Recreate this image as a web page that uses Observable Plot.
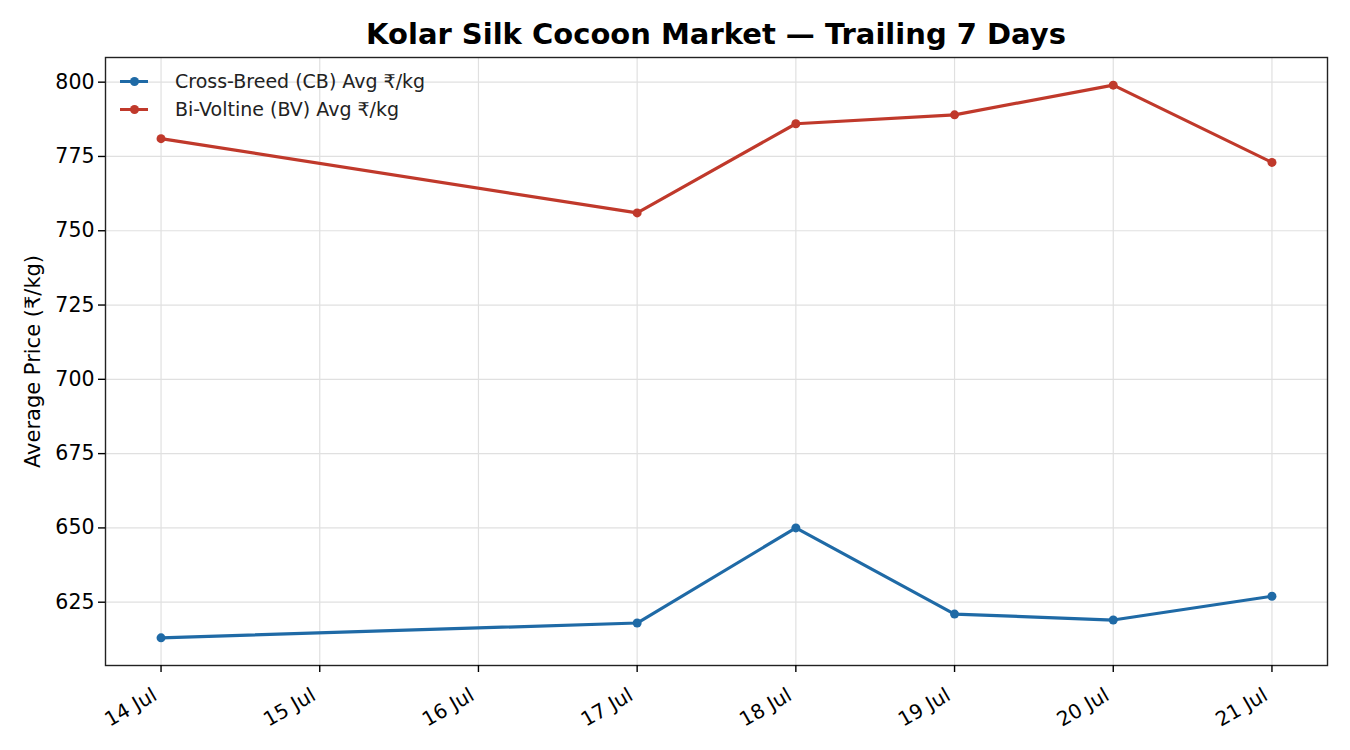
<!DOCTYPE html>
<html><head><meta charset="utf-8">
<script src="https://cdn.jsdelivr.net/npm/d3@7"></script>
<script src="https://cdn.jsdelivr.net/npm/@observablehq/plot@0.6"></script>
<style>
body{margin:0;background:#fff;font-family:"DejaVu Sans",sans-serif;}
#wrap{position:relative;width:1350px;height:750px;}
#title{position:absolute;top:16px;left:105px;width:1222px;text-align:center;font-weight:bold;font-size:29px;line-height:36px;color:#000;z-index:2;}
#legend{position:absolute;top:67px;left:120px;font-size:19px;color:#222;z-index:2;}
.li{display:flex;align-items:center;height:28px;}
.sw{position:relative;width:28px;height:14px;margin-right:27px;}
.sw .ln{position:absolute;left:0;right:0;top:5.5px;height:3px;}
.sw .dt{position:absolute;left:9.5px;top:2.5px;width:9px;height:9px;border-radius:50%;}
#chart{position:absolute;top:50px;left:0;z-index:1;}
</style></head>
<body><div id="wrap"><div id="title"></div><div id="legend"></div><div id="chart"></div></div>
<script>
const titleText = "Kolar Silk Cocoon Market — Trailing 7 Days";
const dates = ["2024-07-14","2024-07-17","2024-07-18","2024-07-19","2024-07-20","2024-07-21"];
const cbValues = [613, 618, 650, 621, 619, 627];
const bvValues = [781, 756, 786, 789, 799, 773];
const seriesNames = ["Cross-Breed (CB) Avg ₹/kg","Bi-Voltine (BV) Avg ₹/kg"];
const seriesColors = ["#1f6aa6","#c0392b"];
const xTicks = ["2024-07-14","2024-07-15","2024-07-16","2024-07-17","2024-07-18","2024-07-19","2024-07-20","2024-07-21"];
const yTicks = [625,650,675,700,725,750,775,800];
const yLabel = "Average Price (₹/kg)";

const parse = d3.utcParse("%Y-%m-%d");
const rows = [];
dates.forEach((d,i)=>{rows.push({date:parse(d),value:cbValues[i],series:seriesNames[0]});});
dates.forEach((d,i)=>{rows.push({date:parse(d),value:bvValues[i],series:seriesNames[1]});});
const xt = xTicks.map(parse);
const allV = cbValues.concat(bvValues);
const vmin = d3.min(allV), vmax = d3.max(allV), pad=(vmax-vmin)*0.05;
const t0 = parse(dates[0]).getTime(), t1 = parse(dates[dates.length-1]).getTime(), tp=(t1-t0)*0.05;

document.getElementById("title").textContent = titleText;
document.getElementById("legend").innerHTML = seriesNames.map((n,i)=>
  `<div class="li"><div class="sw"><div class="ln" style="background:${seriesColors[i]}"></div><div class="dt" style="background:${seriesColors[i]}"></div></div><span>${n}</span></div>`).join("");

const fmt = d3.utcFormat("%-d %b");
const chart = Plot.plot({
  width:1350, height:700,
  marginTop:7, marginBottom:85, marginLeft:105, marginRight:23,
  style:{fontFamily:"DejaVu Sans, sans-serif", fontSize:"20px", color:"#000", background:"transparent"},
  x:{type:"utc", domain:[new Date(t0-tp), new Date(t1+tp)]},
  y:{domain:[vmin-pad, vmax+pad]},
  color:{domain:seriesNames, range:seriesColors},
  marks:[
    Plot.gridX(xt,{stroke:"#e0e0e0", strokeOpacity:1, strokeWidth:1.2}),
    Plot.gridY(yTicks,{stroke:"#e0e0e0", strokeOpacity:1, strokeWidth:1.2}),
    Plot.line(rows,{x:"date",y:"value",z:"series",stroke:"series",strokeWidth:3.2}),
    Plot.dot(rows,{x:"date",y:"value",fill:"series",r:4.5}),
    Plot.frame({stroke:"#222", strokeWidth:1.4}),
    Plot.axisX({ticks:xt, tickSize:7, text:null, label:null, strokeWidth:1.4}),
    Plot.axisX({ticks:xt, tickFormat:fmt, tickRotate:-30, tickSize:0, tickPadding:28, dx:-6, fontSize:20, label:null}),
    Plot.axisY({ticks:yTicks, tickSize:7, tickPadding:4, fontSize:20.5, label:null, strokeWidth:1.4}),
    Plot.axisY({ticks:[], tickSize:0, fontSize:21, label:yLabel, labelAnchor:"center", labelOffset:80, labelArrow:"none"})
  ]
});
document.getElementById("chart").appendChild(chart);
</script></body></html>
